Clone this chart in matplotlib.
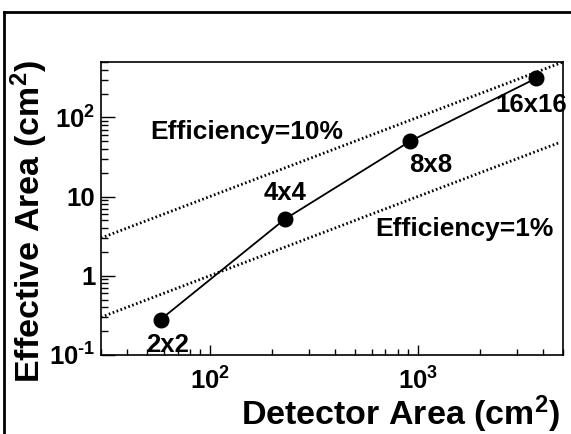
import numpy as np
import matplotlib
matplotlib.use('Agg')
import matplotlib.pyplot as plt
from matplotlib.lines import Line2D
from matplotlib.ticker import LogLocator, FixedLocator, FixedFormatter, NullFormatter

plt.rcParams['font.family'] = ['Liberation Sans', 'DejaVu Sans']
plt.rcParams['font.weight'] = 'bold'
plt.rcParams['mathtext.fontset'] = 'custom'
plt.rcParams['mathtext.rm'] = 'Liberation Sans:bold'
plt.rcParams['mathtext.it'] = 'Liberation Sans:bold'
plt.rcParams['mathtext.bf'] = 'Liberation Sans:bold'

# данные: площадь детектора и эффективная площадь
detector_area = [58, 230, 920, 3700]
effective_area = [0.28, 5.2, 50, 310]
point_labels = ['2x2', '4x4', '8x8', '16x16']
label_offsets = [(5, -18), (0, 19), (15, -17), (-3, -19)]   # в пунктах

efficiencies = [0.10, 0.01]
eff_labels = ['Efficiency=10%', 'Efficiency=1%']
eff_line_end = [5000, 4800]

x_ticks = [100, 1000]
x_ticklabels = ['$10^{2}$', '$10^{3}$']
y_ticks = [0.1, 1, 10, 100]
y_ticklabels = [r'$10^{\text{-}1}$', '1', '10', '$10^{2}$']

fig = plt.figure(figsize=(5.71, 4.34), dpi=100)
ax = fig.add_axes([101/571, 1-355/434, 462/571, 293/434])
ax.set_xscale('log')
ax.set_yscale('log')
ax.set_xlim(30, 5000)
ax.set_ylim(0.1, 500)

# линии эффективности
for eff, xe in zip(efficiencies, eff_line_end):
    xs = np.array([30, xe])
    ax.plot(xs, eff * xs, color='black', lw=2, linestyle=(0, (0.6, 0.9)))

ax.plot(detector_area, effective_area, color='black', lw=1.3,
        marker='o', markersize=10.5)

for x, y, lab, off in zip(detector_area, effective_area, point_labels, label_offsets):
    ax.annotate(lab, (x, y), xytext=off, textcoords='offset points',
                ha='center', va='center', fontsize=18.5, fontweight='bold')

ax.text(0.316, 0.761, eff_labels[0], transform=ax.transAxes, ha='center',
        va='center', fontsize=19, fontweight='bold')
ax.text(0.786, 0.430, eff_labels[1], transform=ax.transAxes, ha='center',
        va='center', fontsize=19, fontweight='bold')

# оси в стиле ROOT
ax.xaxis.set_major_locator(FixedLocator(x_ticks))
ax.xaxis.set_major_formatter(FixedFormatter(x_ticklabels))
ax.xaxis.set_minor_locator(LogLocator(base=10, subs=np.arange(2, 10)))
ax.xaxis.set_minor_formatter(NullFormatter())
ax.yaxis.set_major_locator(FixedLocator(y_ticks))
ax.yaxis.set_major_formatter(FixedFormatter(y_ticklabels))
ax.yaxis.set_minor_locator(LogLocator(base=10, subs=np.arange(2, 10)))
ax.yaxis.set_minor_formatter(NullFormatter())

ax.tick_params(axis='both', which='both', direction='in', top=False, right=False,
               labelsize=18.5, width=1)
ax.tick_params(axis='x', which='major', length=7, pad=9)
ax.tick_params(axis='x', which='minor', length=4)
ax.tick_params(axis='y', which='major', length=10, pad=4)
ax.tick_params(axis='y', which='minor', length=5)
for s in ax.spines.values():
    s.set_linewidth(1.2)

fig.text(560/571, 1-414/434, 'Detector Area (cm$^{2}$)', ha='right', va='center',
         fontsize=24.5, fontweight='bold')
fig.text(29/571, 1-60/434, 'Effective Area (cm$^{2}$)', ha='center', va='top',
         rotation=90, fontsize=24.5, fontweight='bold')

# рамка пэда
fig.add_artist(Line2D([4/571, 4/571], [0, 1-12/434], color='black', lw=2))
fig.add_artist(Line2D([4/571, 1], [1-12/434, 1-12/434], color='black', lw=2))

fig.savefig('out.png', dpi=100)
